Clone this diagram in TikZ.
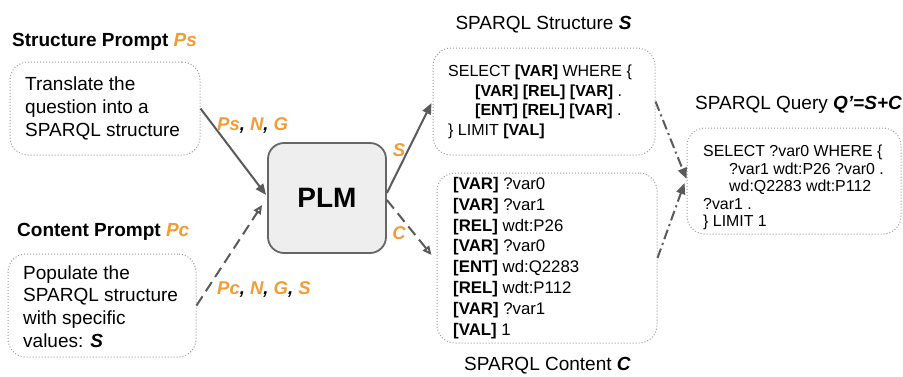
\documentclass[tikz,border=0pt]{standalone}
\usepackage{fontspec}
\setmainfont{Liberation Sans}
\usetikzlibrary{arrows.meta,calc}
\definecolor{org}{HTML}{F39B35}
\definecolor{ln}{HTML}{5A5A5A}
\definecolor{dotc}{HTML}{9A9A9A}
\definecolor{plmfill}{HTML}{EEEEEE}
\definecolor{plmdraw}{HTML}{666666}
\begin{document}
\begin{tikzpicture}[x=1pt,y=-1pt,
  box/.style={draw=dotc, line width=1pt, dash pattern=on 1pt off 2pt, rounded corners=18pt, inner sep=0pt},
  ttl/.style={font=\bfseries\fontsize{19}{22}\selectfont, inner sep=0pt},
  ttlr/.style={font=\fontsize{19}{22}\selectfont, inner sep=0pt},
  ptxt/.style={font=\fontsize{19}{22.8}\selectfont, align=left, inner sep=0pt},
  lab/.style={font=\bfseries\itshape\fontsize{18.5}{22}\selectfont, inner sep=0pt},
  arr/.style={draw=ln, line width=2pt, -{Triangle[length=11pt,width=9pt]}},
  darr/.style={draw=ln, line width=2pt, dash pattern=on 11pt off 6pt, -{Triangle[open,length=9pt,width=8pt]}},
  ddarr/.style={draw=ln, line width=2pt, dash pattern=on 10pt off 4pt on 2pt off 4pt, -{Triangle[length=11pt,width=9pt]}}
]
\useasboundingbox (0,0) rectangle (903,376);

% structure prompt
\node[ttl, anchor=west] (p1title) at (12,42) {Structure Prompt \textcolor{org}{\textit{Ps}}};
\node[box, minimum width=190pt, minimum height=93pt] (p1box) at (105,108.5) {};
\node[ptxt, anchor=west] (p1txt) at (25,108.5) {Translate the\\question into a\\SPARQL structure};

% content prompt
\node[ttl, anchor=west] (p2title) at (17,232) {Content Prompt \textcolor{org}{\textit{Pc}}};
\node[box, minimum width=188pt, minimum height=103pt] (p2box) at (102,305.5) {};
\node[ptxt, anchor=west] (p2txt) at (23,306.5) {Populate the\\SPARQL structure\\with specific\\values: \textbf{\textit{S}}};

% PLM
\node[draw=plmdraw, fill=plmfill, line width=1.8pt, rounded corners=16pt, minimum width=118pt, minimum height=110pt, font=\bfseries\fontsize{28}{32}\selectfont] (plm) at (327,198) {PLM};

% structure box
\node[ttlr] (stitle) at (543.5,25) {SPARQL Structure \textbf{\textit{S}}};
\node[box, minimum width=222pt, minimum height=107pt] (sbox) at (544,101.5) {};
\node[font=\fontsize{16}{19.7}\selectfont, align=left, inner sep=0pt, anchor=west] (stxt) at (448,101.75)
  {SELECT \textbf{[VAR]} WHERE \{\\
   \hspace*{27pt}\textbf{[VAR] [REL] [VAR]} .\\
   \hspace*{27pt}\textbf{[ENT] [REL] [VAR]} .\\
   \} LIMIT \textbf{[VAL]}};

% content box
\node[ttlr] (ctitle) at (547.5,366) {SPARQL Content \textbf{\textit{C}}};
\node[box, minimum width=220pt, minimum height=170pt] (cbox) at (547,258) {};
\node[font=\fontsize{16.8}{20.8}\selectfont, align=left, inner sep=0pt, anchor=west] (ctxt) at (453,258)
  {\textbf{[VAR]} ?var0\\
   \textbf{[VAR]} ?var1\\
   \textbf{[REL]} wdt:P26\\
   \textbf{[VAR]} ?var0\\
   \textbf{[ENT]} wd:Q2283\\
   \textbf{[REL]} wdt:P112\\
   \textbf{[VAR]} ?var1\\
   \textbf{[VAL]} 1};

% query box
\node[ttlr, anchor=west] (qtitle) at (695,105) {SPARQL Query \textbf{\textit{Q’=S+C}}};
\node[box, minimum width=214pt, minimum height=106pt] (qbox) at (794,181) {};
\node[font=\fontsize{15.9}{17.6}\selectfont, align=left, inner sep=0pt, anchor=west] (qtxt) at (703,187.5)
  {SELECT ?var0 WHERE \{\\
   \hspace*{26pt}?var1 wdt:P26 ?var0 .\\
   \hspace*{26pt}wd:Q2283 wdt:P112\\
   ?var1 .\\
   \} LIMIT 1};

% arrows
\draw[arr] (p1box.east) -- ($(plm.west)+(-1,-3)$);
\draw[darr] (p2box.east) -- ($(plm.west)+(-5,7)$);
\draw[arr] ($(plm.east)+(0,-5)$) -- ($(sbox.west)+(-1,1.5)$);
\draw[darr] ($(plm.east)+(0,2)$) -- ($(cbox.west)+(-5,-3)$);
\draw[ddarr] (sbox.east) -- ($(qbox.west)+(0,-2)$);
\draw[ddarr] (cbox.east) -- ($(qbox.west)+(-2,2)$);

% labels
\node[lab, anchor=west] (l1) at (217,125) {\textcolor{org}{Ps}, \textcolor{org}{N}, \textcolor{org}{G}};
\node[lab, anchor=west] (l2) at (217,289) {\textcolor{org}{Pc}, \textcolor{org}{N}, \textcolor{org}{G}, \textcolor{org}{S}};
\node[lab, text=org] (l3) at (399,150) {S};
\node[lab, text=org] (l4) at (399,233) {C};
\end{tikzpicture}
\end{document}
